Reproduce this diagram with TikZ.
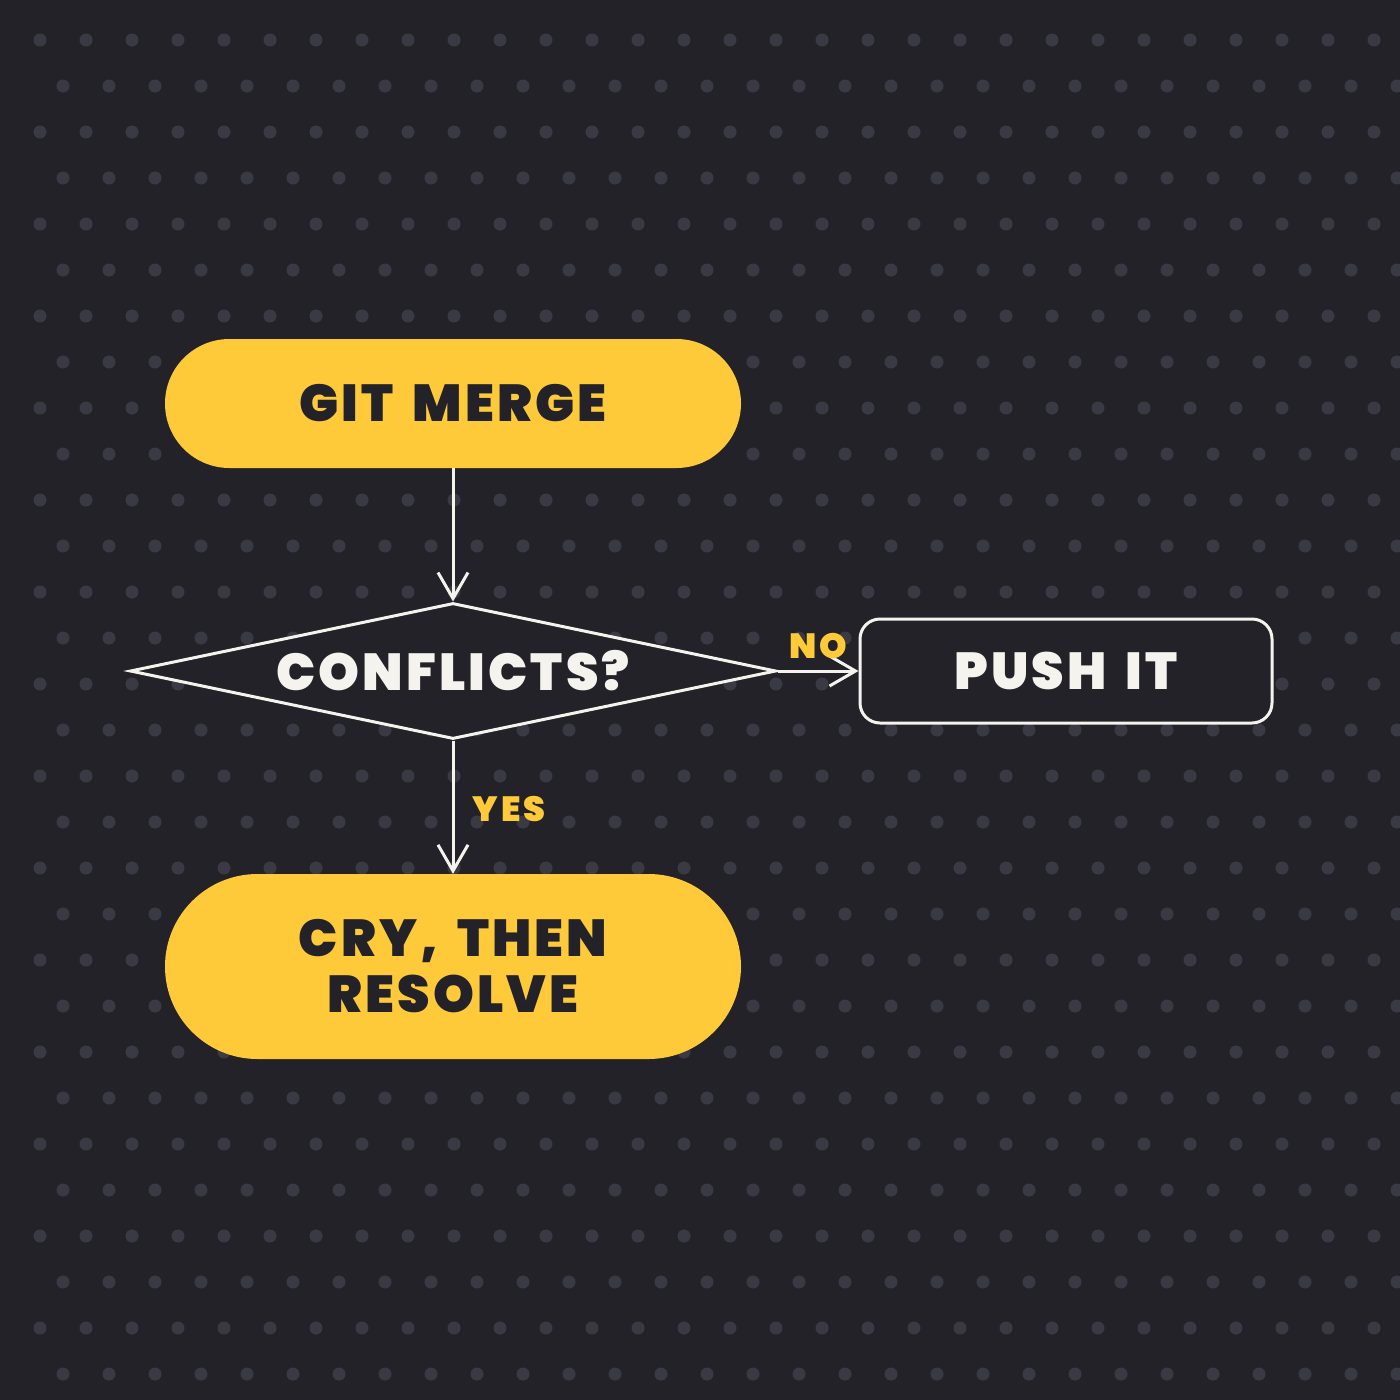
\documentclass[tikz,border=0pt]{standalone}
\usepackage{fontspec}
\setmainfont{Poppins Black}[LetterSpace=6,WordSpace=1.6]
\usetikzlibrary{shapes.geometric,shapes.misc,arrows.meta}
\definecolor{bg}{HTML}{222228}
\definecolor{dotc}{HTML}{3A3A44}
\definecolor{yel}{HTML}{FFCA3A}
\definecolor{wht}{HTML}{F5F3EE}
\definecolor{ink}{HTML}{222228}
\tikzset{
  stadium/.style={rounded rectangle, fill=yel, inner sep=0pt, text=ink, font=\fontsize{52}{56}\selectfont, align=center},
  decision/.style={diamond, draw=wht, fill=bg, line width=3pt, inner sep=0pt, aspect=4.69, text=wht, font=\fontsize{52}{56}\selectfont},
  outbox/.style={rectangle, rounded corners=20pt, draw=wht, fill=bg, line width=3pt, inner sep=0pt, text=wht, font=\fontsize{52}{56}\selectfont},
  flow/.style={draw=wht, line width=3pt, -{Straight Barb[length=26pt,width=30pt]}},
  lbl/.style={text=yel, font=\fontsize{35}{38}\selectfont\addfontfeature{LetterSpace=8}, inner sep=0pt},
}
\begin{document}
\begin{tikzpicture}[x=1pt,y=-1pt]
\useasboundingbox (0,0) rectangle (1400,1400);
\fill[bg] (0,0) rectangle (1400,1400);
\begin{scope}
\clip (0,0) rectangle (1400,1400);
\foreach \r in {0,...,29}{
  \pgfmathsetmacro{\off}{mod(\r,2)==0 ? 40 : 63}
  \foreach \c in {0,...,30}{
    \fill[dotc] ({\off+46*\c},{40+46*\r}) circle (6.5pt);
  }
}
\end{scope}
\node[stadium, minimum width=576pt, minimum height=129pt] (merge) at (453,403.5) {GIT MERGE};
\node[decision, minimum width=646pt, minimum height=136pt] (conf) at (453,671) {CONFLICTS?};
\node[outbox, minimum width=412pt, minimum height=104pt] (push) at (1066,671) {PUSH IT};
\node[stadium, minimum width=576pt, minimum height=185pt] (cry) at (453,966.5) {CRY, THEN\\RESOLVE};
\draw[flow] (merge.south) -- (conf.north);
\draw[flow] (conf.south) -- (cry.north);
\draw[flow] (conf.east) -- (push.west);
\node[lbl] (yes) at (509,809) {YES};
\node[lbl] (no) at (818,646) {NO};
\end{tikzpicture}
\end{document}
